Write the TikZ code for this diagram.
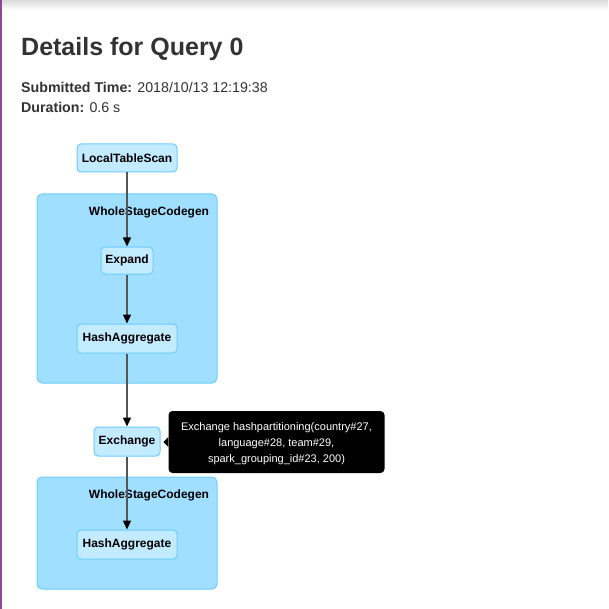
\documentclass[tikz,border=0pt]{standalone}
\usepackage{fontspec}
\setmainfont{Liberation Sans}
\usetikzlibrary{arrows.meta}
\definecolor{clusterfill}{HTML}{A0DFFF}
\definecolor{nodefill}{HTML}{C3EBFF}
\definecolor{boxstroke}{HTML}{6DCCFF}
\definecolor{edgecol}{HTML}{555555}
\definecolor{textcol}{HTML}{333333}
\definecolor{sidebar}{HTML}{8A4A8E}
\tikzset{
  x=1pt, y=-1pt,
  opbox/.style={draw=boxstroke, fill=nodefill, line width=1pt, rounded corners=4pt,
    font=\fontsize{12}{14}\selectfont\bfseries, inner sep=0pt, text=black},
  clusterbox/.style={draw=boxstroke, fill=clusterfill, line width=1pt, rounded corners=5pt},
  clusterlabel/.style={font=\fontsize{12}{14}\selectfont\bfseries, text=black, inner sep=0pt},
  flow/.style={draw=edgecol, line width=1.5pt, -{Triangle[width=8pt,length=9pt,fill=black,color=black]}},
  heading/.style={anchor=base west, inner sep=0pt, text=textcol},
  tipbox/.style={fill=black, rounded corners=4pt, inner sep=0pt},
  tiptext/.style={text=white, align=center, font=\fontsize{11}{16}\selectfont, inner sep=0pt}
}
\begin{document}
\begin{tikzpicture}
\useasboundingbox (0,0) rectangle (608,609);
\fill[white] (0,0) rectangle (608,609);
\shade[top color=black!14, bottom color=white] (0,0) rectangle (608,10);
\fill[sidebar] (0,0) rectangle (2,609);

\node[heading, font=\fontsize{25}{28}\selectfont\bfseries] (title) at (21,56) {Details for Query 0};
\node[heading, font=\fontsize{14.2}{16}\selectfont] (submitted) at (21,93) {\textbf{Submitted Time:} 2018/10/13 12:19:38};
\node[heading, font=\fontsize{14.2}{16}\selectfont] (duration) at (21,113) {\textbf{Duration:} 0.6 s};

% clusters
\node[clusterbox, minimum width=180pt, minimum height=189pt, inner sep=0pt] (cluster1) at (127,288.5) {};
\node[clusterbox, minimum width=180pt, minimum height=112pt, inner sep=0pt] (cluster2) at (127,533) {};
\node[clusterlabel] (label1) at (149,212) {WholeStageCodegen};
\node[clusterlabel] (label2) at (149,495) {WholeStageCodegen};

% operator nodes
\node[opbox, minimum width=100pt, minimum height=28pt] (scan) at (127,158) {LocalTableScan};
\node[opbox, minimum width=52pt, minimum height=27pt] (expand) at (127,260.5) {Expand};
\node[opbox, minimum width=100pt, minimum height=29pt] (agg1) at (127,338.5) {HashAggregate};
\node[opbox, minimum width=66pt, minimum height=29pt] (exchange) at (127,441.5) {Exchange};
\node[opbox, minimum width=100pt, minimum height=29pt] (agg2) at (127,544.5) {HashAggregate};

% edges
\draw[flow] (scan.south) -- (expand.north);
\draw[flow] (expand.south) -- (agg1.north);
\draw[flow] (agg1.south) -- (exchange.north);
\draw[flow] (exchange.south) -- (agg2.north);

% tooltip
\node[tipbox, minimum width=216pt, minimum height=62pt] (tooltip) at (276.5,442) {};
\fill[black] ([yshift=-5pt]tooltip.west) -- ([xshift=-5pt]tooltip.west) -- ([yshift=5pt]tooltip.west) -- cycle;
\node[tiptext] (tiptxt) at (276.5,444)
  {Exchange hashpartitioning(country\#27,\\language\#28, team\#29,\\spark\_grouping\_id\#23, 200)};
\end{tikzpicture}
\end{document}
